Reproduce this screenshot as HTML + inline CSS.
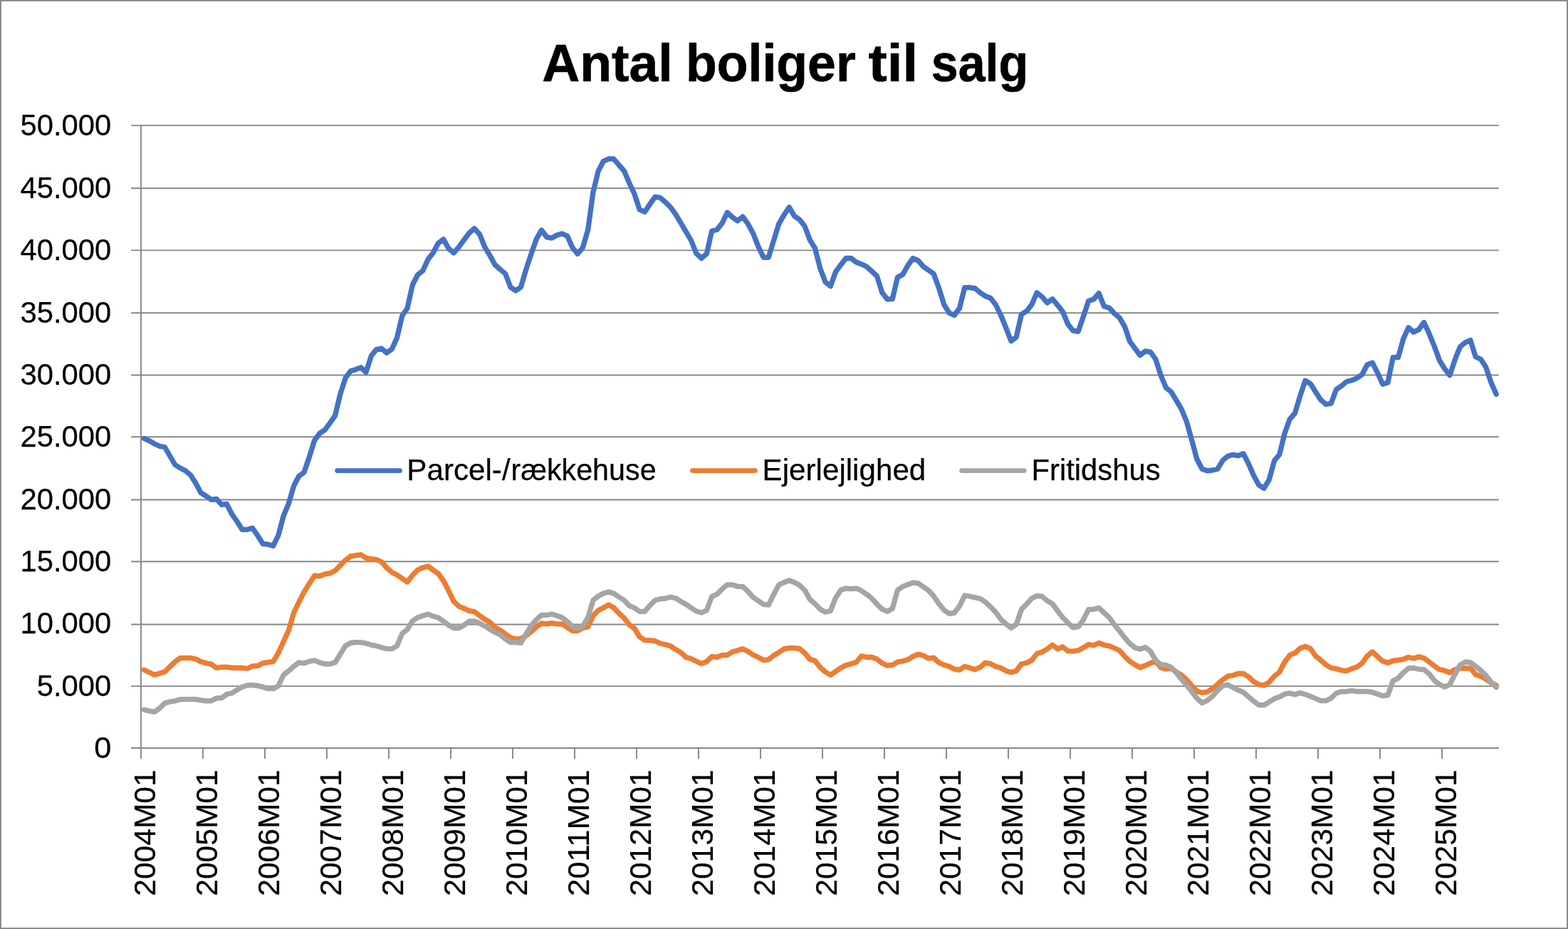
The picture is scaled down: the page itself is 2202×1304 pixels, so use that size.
<!DOCTYPE html>
<html lang="da">
<head>
<meta charset="utf-8">
<title>Antal boliger til salg</title>
<style>
html,body{margin:0;padding:0;background:#fff;}
body{width:2202px;height:1304px;overflow:hidden;}
svg{display:block;}
text{font-family:"Liberation Sans", sans-serif;fill:#000;}
.ax{font-size:43.3px;stroke:#000;stroke-width:0.25px;stroke-linejoin:round;}
.grid{stroke:#868686;stroke-width:1.9;fill:none;}
.ser{fill:none;stroke-width:7.3;stroke-linejoin:round;stroke-linecap:round;}
</style>
</head>
<body>
<svg width="2202" height="1304" viewBox="0 0 2202 1304">
<rect x="0" y="0" width="2202" height="1304" fill="#ffffff"/>
<rect x="0.95" y="0.9" width="2200.1" height="1302.2" fill="none" stroke="#868686" stroke-width="1.9"/>

<g class="grid">
<line x1="184.1" y1="1049.95" x2="2104.9" y2="1049.95"/>
<line x1="184.1" y1="963.10" x2="2104.9" y2="963.10"/>
<line x1="184.1" y1="876.45" x2="2104.9" y2="876.45"/>
<line x1="184.1" y1="788.20" x2="2104.9" y2="788.20"/>
<line x1="184.1" y1="701.45" x2="2104.9" y2="701.45"/>
<line x1="184.1" y1="613.20" x2="2104.9" y2="613.20"/>
<line x1="184.1" y1="526.45" x2="2104.9" y2="526.45"/>
<line x1="184.1" y1="439.25" x2="2104.9" y2="439.25"/>
<line x1="184.1" y1="351.40" x2="2104.9" y2="351.40"/>
<line x1="184.1" y1="264.25" x2="2104.9" y2="264.25"/>
<line x1="184.1" y1="176.10" x2="2104.9" y2="176.10"/>
<line x1="197.95" y1="175.15" x2="197.95" y2="1065.0"/>
<line x1="285.0" y1="1050.0" x2="285.0" y2="1065.0"/>
<line x1="372.0" y1="1050.0" x2="372.0" y2="1065.0"/>
<line x1="459.0" y1="1050.0" x2="459.0" y2="1065.0"/>
<line x1="546.0" y1="1050.0" x2="546.0" y2="1065.0"/>
<line x1="633.0" y1="1050.0" x2="633.0" y2="1065.0"/>
<line x1="720.0" y1="1050.0" x2="720.0" y2="1065.0"/>
<line x1="807.0" y1="1050.0" x2="807.0" y2="1065.0"/>
<line x1="894.0" y1="1050.0" x2="894.0" y2="1065.0"/>
<line x1="981.0" y1="1050.0" x2="981.0" y2="1065.0"/>
<line x1="1068.0" y1="1050.0" x2="1068.0" y2="1065.0"/>
<line x1="1155.0" y1="1050.0" x2="1155.0" y2="1065.0"/>
<line x1="1242.0" y1="1050.0" x2="1242.0" y2="1065.0"/>
<line x1="1329.0" y1="1050.0" x2="1329.0" y2="1065.0"/>
<line x1="1416.0" y1="1050.0" x2="1416.0" y2="1065.0"/>
<line x1="1503.0" y1="1050.0" x2="1503.0" y2="1065.0"/>
<line x1="1590.0" y1="1050.0" x2="1590.0" y2="1065.0"/>
<line x1="1677.0" y1="1050.0" x2="1677.0" y2="1065.0"/>
<line x1="1764.0" y1="1050.0" x2="1764.0" y2="1065.0"/>
<line x1="1851.0" y1="1050.0" x2="1851.0" y2="1065.0"/>
<line x1="1938.0" y1="1050.0" x2="1938.0" y2="1065.0"/>
<line x1="2025.1" y1="1050.0" x2="2025.1" y2="1065.0"/>
</g>
<defs><clipPath id="plot"><rect x="198.90" y="150" width="1906.00" height="899.95"/></clipPath></defs>
<g clip-path="url(#plot)">
<polyline class="ser" stroke="#4472C4" points="202.4,615.5 209.6,618.7 216.9,623.0 224.1,626.3 231.4,627.5 238.6,640.0 245.9,652.5 253.1,657.0 260.4,660.8 267.6,666.7 274.9,678.3 282.1,691.7 289.4,696.3 296.6,701.3 303.9,700.3 311.1,708.3 318.4,707.5 325.6,721.7 332.9,732.0 340.1,743.3 347.3,743.3 354.6,741.3 361.8,751.7 369.1,763.3 376.3,764.2 383.6,766.3 390.8,751.7 398.1,724.2 405.3,707.0 412.6,682.0 419.8,668.3 427.1,662.8 434.3,641.7 441.6,618.3 448.8,608.3 456.1,603.7 463.3,593.8 470.6,583.3 477.8,553.3 485.0,530.8 492.3,520.8 499.5,518.7 506.8,515.8 514.0,522.5 521.3,499.7 528.5,490.5 535.8,489.2 543.0,495.3 550.3,490.0 557.5,474.2 564.8,443.3 572.0,432.8 579.3,400.0 586.5,385.8 593.8,380.0 601.0,364.2 608.2,355.0 615.5,341.3 622.7,335.8 630.0,348.7 637.2,355.0 644.5,346.7 651.7,336.7 659.0,327.0 666.2,320.8 673.5,328.7 680.7,346.7 688.0,358.7 695.2,371.7 702.5,378.3 709.7,384.2 717.0,403.3 724.2,408.0 731.5,403.0 738.7,378.3 745.9,356.7 753.2,335.8 760.4,323.0 767.7,332.8 774.9,334.2 782.2,330.0 789.4,328.0 796.7,331.3 803.9,347.5 811.2,356.3 818.4,347.5 825.7,322.5 832.9,270.0 840.2,240.0 847.4,226.3 854.7,223.0 861.9,223.0 869.2,231.7 876.4,239.7 883.6,256.7 890.9,272.0 898.1,294.2 905.4,297.5 912.6,286.7 919.9,276.3 927.1,277.5 934.4,283.7 941.6,290.8 948.9,300.8 956.1,313.0 963.4,325.3 970.6,337.5 977.9,355.8 985.1,362.5 992.4,356.3 999.6,324.2 1006.9,322.5 1014.1,313.3 1021.3,298.3 1028.6,305.0 1035.8,310.0 1043.1,304.2 1050.3,314.2 1057.6,327.5 1064.8,345.8 1072.1,361.3 1079.3,361.3 1086.6,337.5 1093.8,314.2 1101.1,301.7 1108.3,290.8 1115.6,303.3 1122.8,308.3 1130.1,317.5 1137.3,336.7 1144.5,348.3 1151.8,376.7 1159.0,395.8 1166.3,401.7 1173.5,381.7 1180.8,371.7 1188.0,362.5 1195.3,362.5 1202.5,368.0 1209.8,370.8 1217.0,374.2 1224.3,380.8 1231.5,387.5 1238.8,410.8 1246.0,420.0 1253.3,419.7 1260.5,389.2 1267.8,385.3 1275.0,372.5 1282.2,362.5 1289.5,365.8 1296.7,374.2 1304.0,379.2 1311.2,384.2 1318.5,404.2 1325.7,427.5 1333.0,439.2 1340.2,442.5 1347.5,432.5 1354.7,403.7 1362.0,403.7 1369.2,404.7 1376.5,410.8 1383.7,415.8 1391.0,418.3 1398.2,427.5 1405.5,442.5 1412.7,460.0 1419.9,478.7 1427.2,473.3 1434.4,441.3 1441.7,436.7 1448.9,427.5 1456.2,410.8 1463.4,416.7 1470.7,425.0 1477.9,419.7 1485.2,428.3 1492.4,437.5 1499.7,455.0 1506.9,464.2 1514.2,465.3 1521.4,444.2 1528.7,422.5 1535.9,420.0 1543.2,411.7 1550.4,430.0 1557.6,432.0 1564.9,440.0 1572.1,445.8 1579.4,458.3 1586.6,479.2 1593.9,489.2 1601.1,498.7 1608.4,493.0 1615.6,494.2 1622.9,504.2 1630.1,526.7 1637.4,544.2 1644.6,550.0 1651.9,562.0 1659.1,574.2 1666.4,591.7 1673.6,617.5 1680.8,644.2 1688.1,658.3 1695.3,660.8 1702.6,660.0 1709.8,658.3 1717.1,646.3 1724.3,640.3 1731.6,638.3 1738.8,639.7 1746.1,636.7 1753.3,650.8 1760.6,667.5 1767.8,680.8 1775.1,685.3 1782.3,673.3 1789.6,646.7 1796.8,638.0 1804.1,608.3 1811.3,588.3 1818.5,580.0 1825.8,555.8 1833.0,534.2 1840.3,538.7 1847.5,550.0 1854.8,561.3 1862.0,567.5 1869.3,566.3 1876.5,546.7 1883.8,541.7 1891.0,535.8 1898.3,533.8 1905.5,530.8 1912.8,525.8 1920.0,512.0 1927.3,509.2 1934.5,523.3 1941.8,539.2 1949.0,537.0 1956.2,501.7 1963.5,501.7 1970.7,475.8 1978.0,459.7 1985.2,466.3 1992.5,462.5 1999.7,452.5 2007.0,468.3 2014.2,485.8 2021.5,505.8 2028.7,517.5 2036.0,526.7 2043.2,505.0 2050.5,486.7 2057.7,480.8 2065.0,477.5 2072.2,500.8 2079.5,504.2 2086.7,515.3 2093.9,536.7 2101.2,553.3"/>
<polyline class="ser" stroke="#ED7D31" points="202.4,940.3 209.6,943.7 216.9,947.2 224.1,945.3 231.4,943.0 238.6,935.8 245.9,928.8 253.1,923.7 260.4,923.7 267.6,923.7 274.9,925.0 282.1,928.8 289.4,930.8 296.6,932.2 303.9,937.5 311.1,936.3 318.4,936.3 325.6,937.3 332.9,937.5 340.1,937.5 347.3,938.5 354.6,935.0 361.8,934.7 369.1,930.8 376.3,929.7 383.6,928.7 390.8,916.7 398.1,900.8 405.3,885.0 412.6,860.0 419.8,845.0 427.1,830.8 434.3,819.2 441.6,808.0 448.8,808.7 456.1,805.8 463.3,804.7 470.6,801.0 477.8,793.8 485.0,786.3 492.3,780.8 499.5,779.7 506.8,778.7 514.0,783.3 521.3,784.5 528.5,785.3 535.8,788.7 543.0,796.7 550.3,803.3 557.5,807.0 564.8,812.0 572.0,817.0 579.3,807.5 586.5,800.0 593.8,796.7 601.0,794.7 608.2,800.0 615.5,805.3 622.7,815.0 630.0,829.2 637.2,844.2 644.5,851.2 651.7,854.2 659.0,857.3 666.2,858.7 673.5,864.2 680.7,869.2 688.0,873.3 695.2,880.8 702.5,884.7 709.7,890.0 717.0,895.0 724.2,897.0 731.5,896.3 738.7,892.5 745.9,886.7 753.2,880.0 760.4,875.0 767.7,875.8 774.9,874.7 782.2,875.8 789.4,875.8 796.7,880.8 803.9,885.3 811.2,885.3 818.4,881.3 825.7,880.0 832.9,864.2 840.2,856.7 847.4,853.0 854.7,849.0 861.9,853.0 869.2,860.8 876.4,867.5 883.6,876.7 890.9,882.0 898.1,893.7 905.4,898.7 912.6,898.8 919.9,899.7 927.1,903.0 934.4,904.7 941.6,906.7 948.9,911.7 956.1,915.8 963.4,922.5 970.6,924.7 977.9,928.3 985.1,931.7 992.4,928.7 999.6,921.7 1006.9,922.5 1014.1,919.7 1021.3,919.5 1028.6,915.0 1035.8,913.0 1043.1,910.8 1050.3,914.2 1057.6,919.2 1064.8,922.5 1072.1,926.7 1079.3,925.8 1086.6,920.0 1093.8,915.8 1101.1,910.8 1108.3,909.7 1115.6,909.7 1122.8,910.5 1130.1,916.7 1137.3,925.3 1144.5,927.5 1151.8,936.7 1159.0,943.0 1166.3,947.5 1173.5,942.5 1180.8,937.5 1188.0,933.7 1195.3,931.7 1202.5,929.5 1209.8,920.8 1217.0,922.5 1224.3,922.5 1231.5,925.0 1238.8,930.8 1246.0,934.2 1253.3,933.3 1260.5,929.2 1267.8,928.0 1275.0,925.8 1282.2,921.3 1289.5,918.3 1296.7,920.3 1304.0,924.2 1311.2,923.3 1318.5,930.0 1325.7,933.3 1333.0,935.5 1340.2,939.2 1347.5,940.3 1354.7,935.5 1362.0,937.5 1369.2,939.7 1376.5,936.7 1383.7,930.3 1391.0,931.7 1398.2,935.5 1405.5,937.5 1412.7,941.7 1419.9,943.7 1427.2,941.7 1434.4,932.0 1441.7,930.5 1448.9,926.7 1456.2,917.5 1463.4,915.3 1470.7,910.8 1477.9,905.3 1485.2,910.8 1492.4,908.0 1499.7,913.8 1506.9,914.2 1514.2,913.0 1521.4,909.2 1528.7,904.7 1535.9,905.8 1543.2,902.5 1550.4,905.3 1557.6,906.7 1564.9,909.7 1572.1,913.0 1579.4,921.3 1586.6,928.3 1593.9,933.0 1601.1,937.0 1608.4,934.2 1615.6,930.8 1622.9,928.0 1630.1,937.0 1637.4,939.2 1644.6,938.0 1651.9,943.3 1659.1,947.5 1666.4,954.2 1673.6,962.5 1680.8,970.3 1688.1,972.2 1695.3,971.3 1702.6,966.7 1709.8,960.8 1717.1,954.2 1724.3,949.2 1731.6,948.0 1738.8,945.3 1746.1,945.5 1753.3,950.0 1760.6,956.7 1767.8,960.8 1775.1,962.0 1782.3,957.5 1789.6,949.2 1796.8,943.3 1804.1,929.2 1811.3,919.7 1818.5,916.7 1825.8,910.0 1833.0,907.5 1840.3,910.5 1847.5,920.8 1854.8,926.7 1862.0,933.0 1869.3,937.5 1876.5,938.7 1883.8,940.8 1891.0,941.7 1898.3,938.7 1905.5,936.3 1912.8,930.8 1920.0,920.8 1927.3,915.0 1934.5,921.7 1941.8,928.0 1949.0,930.3 1956.2,927.5 1963.5,926.7 1970.7,925.3 1978.0,922.5 1985.2,924.2 1992.5,921.7 1999.7,923.7 2007.0,929.2 2014.2,934.7 2021.5,939.7 2028.7,941.3 2036.0,944.2 2043.2,940.0 2050.5,938.0 2057.7,938.0 2065.0,938.0 2072.2,946.7 2079.5,949.2 2086.7,953.3 2093.9,958.3 2101.2,962.0"/>
<polyline class="ser" stroke="#A5A5A5" points="202.4,996.2 209.6,998.0 216.9,999.3 224.1,994.2 231.4,987.0 238.6,985.0 245.9,983.8 253.1,981.7 260.4,981.7 267.6,981.7 274.9,981.7 282.1,982.8 289.4,983.8 296.6,983.8 303.9,980.0 311.1,979.7 318.4,974.5 325.6,973.0 332.9,968.3 340.1,964.2 347.3,962.0 354.6,961.7 361.8,962.7 369.1,964.2 376.3,966.7 383.6,966.7 390.8,963.0 398.1,947.5 405.3,941.7 412.6,935.3 419.8,930.0 427.1,931.0 434.3,928.3 441.6,927.0 448.8,930.0 456.1,932.0 463.3,932.0 470.6,930.0 477.8,918.3 485.0,906.7 492.3,902.5 499.5,901.7 506.8,901.7 514.0,903.0 521.3,905.3 528.5,906.7 535.8,908.7 543.0,910.7 550.3,910.8 557.5,906.7 564.8,889.2 572.0,883.7 579.3,871.7 586.5,866.7 593.8,864.2 601.0,862.0 608.2,865.0 615.5,867.0 622.7,872.0 630.0,877.5 637.2,881.7 644.5,881.7 651.7,877.5 659.0,872.0 666.2,872.0 673.5,875.0 680.7,878.7 688.0,883.3 695.2,887.5 702.5,890.8 709.7,897.0 717.0,901.7 724.2,901.7 731.5,902.5 738.7,890.0 745.9,878.3 753.2,870.0 760.4,863.3 767.7,863.3 774.9,862.0 782.2,864.2 789.4,867.0 796.7,872.5 803.9,879.2 811.2,881.7 818.4,879.2 825.7,866.7 832.9,842.5 840.2,836.7 847.4,833.0 854.7,830.8 861.9,833.0 869.2,838.0 876.4,842.5 883.6,850.0 890.9,853.3 898.1,858.3 905.4,858.3 912.6,850.0 919.9,842.5 927.1,840.8 934.4,840.0 941.6,838.0 948.9,839.7 956.1,844.2 963.4,848.3 970.6,853.3 977.9,858.0 985.1,860.0 992.4,856.7 999.6,837.5 1006.9,834.2 1014.1,826.7 1021.3,820.8 1028.6,820.8 1035.8,823.3 1043.1,823.3 1050.3,830.0 1057.6,838.3 1064.8,843.3 1072.1,848.3 1079.3,849.2 1086.6,834.2 1093.8,820.8 1101.1,817.5 1108.3,814.7 1115.6,817.5 1122.8,821.3 1130.1,828.3 1137.3,841.3 1144.5,847.5 1151.8,855.0 1159.0,859.2 1166.3,857.5 1173.5,839.2 1180.8,828.3 1188.0,825.8 1195.3,826.7 1202.5,825.8 1209.8,829.2 1217.0,834.2 1224.3,840.0 1231.5,848.0 1238.8,855.0 1246.0,858.3 1253.3,854.2 1260.5,828.3 1267.8,823.3 1275.0,820.5 1282.2,817.8 1289.5,818.7 1296.7,823.7 1304.0,828.7 1311.2,836.7 1318.5,847.5 1325.7,856.3 1333.0,861.3 1340.2,860.3 1347.5,850.8 1354.7,835.8 1362.0,837.0 1369.2,838.7 1376.5,840.3 1383.7,845.0 1391.0,851.7 1398.2,859.2 1405.5,869.2 1412.7,875.8 1419.9,881.3 1427.2,876.7 1434.4,855.3 1441.7,848.0 1448.9,840.0 1456.2,836.3 1463.4,837.2 1470.7,843.3 1477.9,847.5 1485.2,857.5 1492.4,866.7 1499.7,874.2 1506.9,880.8 1514.2,879.7 1521.4,870.0 1528.7,855.3 1535.9,855.3 1543.2,853.3 1550.4,860.0 1557.6,866.7 1564.9,876.7 1572.1,885.8 1579.4,895.0 1586.6,903.3 1593.9,909.2 1601.1,911.3 1608.4,908.7 1615.6,914.2 1622.9,926.7 1630.1,932.8 1637.4,933.7 1644.6,936.7 1651.9,944.2 1659.1,953.3 1666.4,961.7 1673.6,970.8 1680.8,980.0 1688.1,986.7 1695.3,983.3 1702.6,977.5 1709.8,969.2 1717.1,962.5 1724.3,961.3 1731.6,965.0 1738.8,968.7 1746.1,971.7 1753.3,978.0 1760.6,984.2 1767.8,989.7 1775.1,989.7 1782.3,985.3 1789.6,980.8 1796.8,978.3 1804.1,974.2 1811.3,973.0 1818.5,975.0 1825.8,972.5 1833.0,974.7 1840.3,977.5 1847.5,980.5 1854.8,983.7 1862.0,983.7 1869.3,980.0 1876.5,973.0 1883.8,970.8 1891.0,970.7 1898.3,969.5 1905.5,970.7 1912.8,970.7 1920.0,970.7 1927.3,971.7 1934.5,974.2 1941.8,976.7 1949.0,975.8 1956.2,955.8 1963.5,952.0 1970.7,944.2 1978.0,938.0 1985.2,937.7 1992.5,939.3 1999.7,939.7 2007.0,945.8 2014.2,955.0 2021.5,960.8 2028.7,964.2 2036.0,960.8 2043.2,946.7 2050.5,933.3 2057.7,929.2 2065.0,930.0 2072.2,935.0 2079.5,941.3 2086.7,948.0 2093.9,957.5 2101.2,964.7"/>
</g>
<text y="113.5" font-size="75" font-weight="bold" stroke="#000" stroke-width="0.7" stroke-linejoin="round" xml:space="preserve"><tspan x="761.14" textLength="183.61" lengthAdjust="spacingAndGlyphs">Antal</tspan> <tspan x="962.97" textLength="238.85" lengthAdjust="spacingAndGlyphs">boliger</tspan> <tspan x="1219.81" textLength="69.48" lengthAdjust="spacingAndGlyphs">til</tspan> <tspan x="1307.75" textLength="136.31" lengthAdjust="spacingAndGlyphs">salg</tspan></text>
<text class="ax" x="132.18" y="1064.2">0</text>
<text class="ax" x="51.70" y="976.8" textLength="104.54" lengthAdjust="spacingAndGlyphs">5.000</text>
<text class="ax" x="28.54" y="889.4" textLength="127.77" lengthAdjust="spacingAndGlyphs">10.000</text>
<text class="ax" x="28.54" y="802.0" textLength="127.77" lengthAdjust="spacingAndGlyphs">15.000</text>
<text class="ax" x="28.54" y="714.6" textLength="127.77" lengthAdjust="spacingAndGlyphs">20.000</text>
<text class="ax" x="28.54" y="627.2" textLength="127.77" lengthAdjust="spacingAndGlyphs">25.000</text>
<text class="ax" x="28.54" y="539.9" textLength="127.77" lengthAdjust="spacingAndGlyphs">30.000</text>
<text class="ax" x="28.54" y="452.5" textLength="127.77" lengthAdjust="spacingAndGlyphs">35.000</text>
<text class="ax" x="28.54" y="365.1" textLength="127.77" lengthAdjust="spacingAndGlyphs">40.000</text>
<text class="ax" x="28.54" y="277.7" textLength="127.77" lengthAdjust="spacingAndGlyphs">45.000</text>
<text class="ax" x="28.54" y="190.3" textLength="127.77" lengthAdjust="spacingAndGlyphs">50.000</text>
<text class="ax" transform="translate(217.55,1257.69) rotate(-90)" textLength="177.27" lengthAdjust="spacingAndGlyphs">2004M01</text>
<text class="ax" transform="translate(304.55,1257.69) rotate(-90)" textLength="177.27" lengthAdjust="spacingAndGlyphs">2005M01</text>
<text class="ax" transform="translate(391.56,1257.69) rotate(-90)" textLength="177.27" lengthAdjust="spacingAndGlyphs">2006M01</text>
<text class="ax" transform="translate(478.56,1257.69) rotate(-90)" textLength="177.27" lengthAdjust="spacingAndGlyphs">2007M01</text>
<text class="ax" transform="translate(565.57,1257.69) rotate(-90)" textLength="177.27" lengthAdjust="spacingAndGlyphs">2008M01</text>
<text class="ax" transform="translate(652.57,1257.69) rotate(-90)" textLength="177.27" lengthAdjust="spacingAndGlyphs">2009M01</text>
<text class="ax" transform="translate(739.58,1257.69) rotate(-90)" textLength="177.27" lengthAdjust="spacingAndGlyphs">2010M01</text>
<text class="ax" transform="translate(826.58,1257.69) rotate(-90)" textLength="177.27" lengthAdjust="spacingAndGlyphs">2011M01</text>
<text class="ax" transform="translate(913.59,1257.69) rotate(-90)" textLength="177.27" lengthAdjust="spacingAndGlyphs">2012M01</text>
<text class="ax" transform="translate(1000.59,1257.69) rotate(-90)" textLength="177.27" lengthAdjust="spacingAndGlyphs">2013M01</text>
<text class="ax" transform="translate(1087.60,1257.69) rotate(-90)" textLength="177.27" lengthAdjust="spacingAndGlyphs">2014M01</text>
<text class="ax" transform="translate(1174.60,1257.69) rotate(-90)" textLength="177.27" lengthAdjust="spacingAndGlyphs">2015M01</text>
<text class="ax" transform="translate(1261.61,1257.69) rotate(-90)" textLength="177.27" lengthAdjust="spacingAndGlyphs">2016M01</text>
<text class="ax" transform="translate(1348.61,1257.69) rotate(-90)" textLength="177.27" lengthAdjust="spacingAndGlyphs">2017M01</text>
<text class="ax" transform="translate(1435.62,1257.69) rotate(-90)" textLength="177.27" lengthAdjust="spacingAndGlyphs">2018M01</text>
<text class="ax" transform="translate(1522.62,1257.69) rotate(-90)" textLength="177.27" lengthAdjust="spacingAndGlyphs">2019M01</text>
<text class="ax" transform="translate(1609.63,1257.69) rotate(-90)" textLength="177.27" lengthAdjust="spacingAndGlyphs">2020M01</text>
<text class="ax" transform="translate(1696.63,1257.69) rotate(-90)" textLength="177.27" lengthAdjust="spacingAndGlyphs">2021M01</text>
<text class="ax" transform="translate(1783.64,1257.69) rotate(-90)" textLength="177.27" lengthAdjust="spacingAndGlyphs">2022M01</text>
<text class="ax" transform="translate(1870.64,1257.69) rotate(-90)" textLength="177.27" lengthAdjust="spacingAndGlyphs">2023M01</text>
<text class="ax" transform="translate(1957.65,1257.69) rotate(-90)" textLength="177.27" lengthAdjust="spacingAndGlyphs">2024M01</text>
<text class="ax" transform="translate(2044.65,1257.69) rotate(-90)" textLength="177.27" lengthAdjust="spacingAndGlyphs">2025M01</text>
<line x1="473.7" y1="660.6" x2="561.4" y2="660.6" stroke="#4472C4" stroke-width="6.9" stroke-linecap="round"/>
<text class="ax" y="674.4"><tspan x="571.31" textLength="145.34" lengthAdjust="spacingAndGlyphs">Parcel-/</tspan><tspan x="717.46" textLength="204.17" lengthAdjust="spacingAndGlyphs">rækkehuse</tspan></text>
<line x1="972.5" y1="660.6" x2="1060.4" y2="660.6" stroke="#ED7D31" stroke-width="6.9" stroke-linecap="round"/>
<text class="ax" y="674.4"><tspan x="1070.61" textLength="229.67" lengthAdjust="spacingAndGlyphs">Ejerlejlighed</tspan></text>
<line x1="1350.7" y1="660.6" x2="1438.2" y2="660.6" stroke="#A5A5A5" stroke-width="6.9" stroke-linecap="round"/>
<text class="ax" y="674.4"><tspan x="1448.44" textLength="181.26" lengthAdjust="spacingAndGlyphs">Fritidshus</tspan></text>
</svg>
</body>
</html>
